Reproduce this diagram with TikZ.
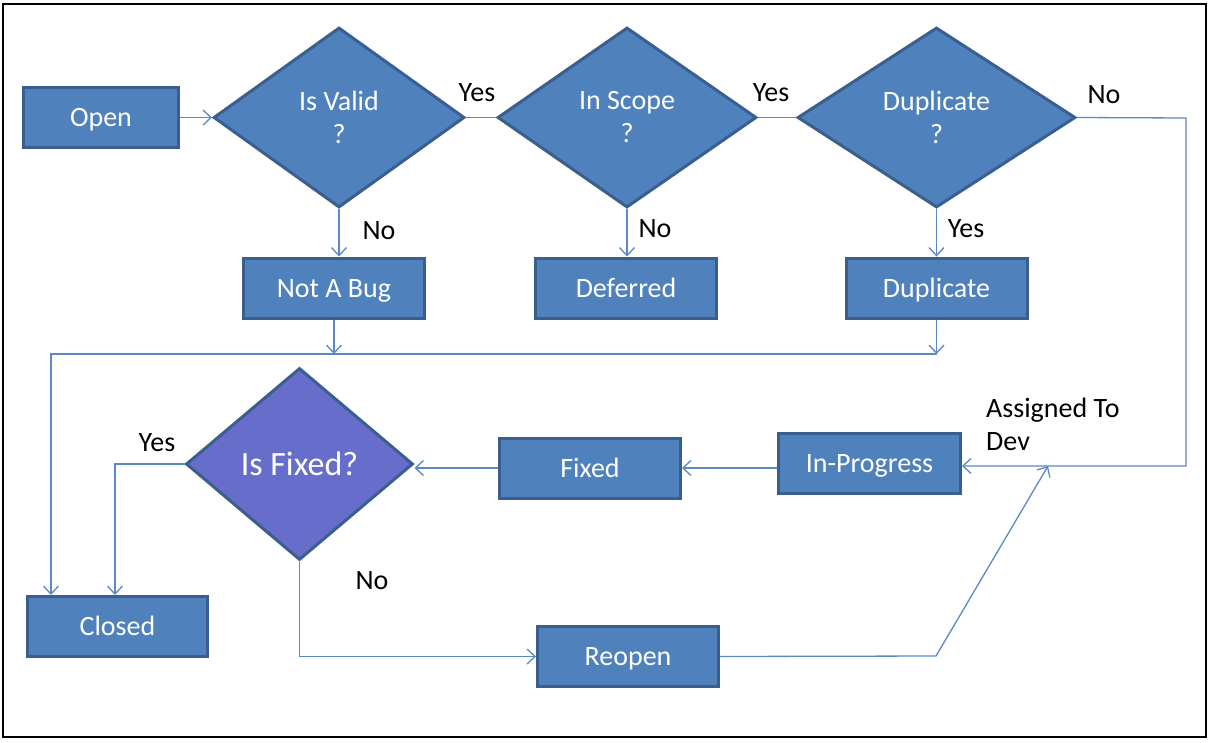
\documentclass[tikz,border=0pt]{standalone}
\usepackage{fontspec}
\setmainfont{Carlito}
\usetikzlibrary{shapes.geometric,arrows.meta}
\definecolor{boxfill}{HTML}{4F81BD}
\definecolor{boxedge}{HTML}{3A5F8F}
\definecolor{fixfill}{HTML}{676DCB}
\definecolor{wire}{HTML}{5B88C6}
\begin{document}
\begin{tikzpicture}[x=1pt,y=-1pt,
  txt/.style={font=\fontsize{28}{33}\selectfont},
  stbox/.style={txt, draw=boxedge, line width=3pt, fill=boxfill, text=white,
    minimum width=#1, minimum height=60pt, inner sep=0pt, text height=20pt, text depth=2pt},
  stbox/.default=181,
  dia/.style={txt, diamond, draw=boxedge, line width=3pt, fill=boxfill, text=white,
    inner sep=0pt, align=center},
  lbl/.style={txt, text=black, inner sep=0pt},
  wireline/.style={draw=wire, line width=1.3pt},
  arr/.style={wireline, -{Straight Barb[length=8pt,width=15pt,line width=1.3pt]}}
]
\useasboundingbox (0,0) rectangle (1210,742);
\fill[white] (0,0) rectangle (1210,742);
\draw[black, line width=2.5pt] (3,4) rectangle (1206,737);

% nodes
\node[stbox=155] (open) at (101,117.5) {Open};
\node[dia, minimum width=251, minimum height=180] (valid) at (339,117.5) {Is Valid\\?};
\node[dia, minimum width=259, minimum height=180] (scope) at (627,117.5) {In Scope\\?};
\node[dia, minimum width=278, minimum height=180] (dupq) at (936.5,117.5) {Duplicate\\?};
\node[stbox] (nab) at (334,288) {Not A Bug};
\node[stbox] (def) at (626,288) {Deferred};
\node[stbox] (dup) at (936.5,288) {Duplicate};
\node[stbox=182] (inprog) at (869.5,463.5) {In-Progress};
\node[stbox] (fixed) at (590,468) {Fixed};
\node[dia, fill=fixfill, minimum width=227, minimum height=192, font=\fontsize{34}{40}\selectfont] (isfixed) at (299.5,464) {Is Fixed?};
\node[stbox=180] (closed) at (117.5,626.5) {Closed};
\node[stbox] (reopen) at (628,656.5) {Reopen};

% coordinates
\coordinate (busL) at (51,354);
\coordinate (busR) at (936.5,354);
\coordinate (rtop) at (1186,118);
\coordinate (rbot) at (1186,466);
\coordinate (yesL) at (115,464);
\coordinate (rk) at (936,656);
\coordinate (ad) at (1048,466);

% connectors
\draw[arr] (open.east) -- (valid.west);
\draw[wireline] (valid.east) -- (scope.west);
\draw[wireline] (scope.east) -- (dupq.west);
\draw[arr] (valid.south) -- (valid.south |- nab.north);
\draw[arr] (scope.south) -- (scope.south |- def.north);
\draw[arr] (dupq.south) -- (dupq.south |- dup.north);
\draw[arr] (nab.south) -- (nab.south |- busL);
\draw[arr] (dup.south) -- (dup.south |- busL);
\draw[arr] (busR) -- (busL) -- (busL |- closed.north);
\draw[arr] (dupq.east) -- (rtop) -- (rbot) -- (inprog.east |- rbot);
\draw[arr] (inprog.west |- fixed.east) -- (fixed.east);
\draw[arr] (fixed.west) -- (isfixed.east |- fixed.west);
\draw[arr] (isfixed.west) -- (yesL) -- (yesL |- closed.north);
\draw[arr] (isfixed.south) -- (isfixed.south |- reopen.west) -- (reopen.west);
\draw[arr] (reopen.east) -- (rk) -- (ad);

% labels
\node[lbl] (l1) at (477,93) {Yes};
\node[lbl] (l2) at (771,93) {Yes};
\node[lbl] (l3) at (1104,95) {No};
\node[lbl] (l4) at (379,231) {No};
\node[lbl] (l5) at (655,229) {No};
\node[lbl] (l6) at (966,229) {Yes};
\node[lbl] (l7) at (157,443) {Yes};
\node[lbl] (l8) at (372,581) {No};
\node[lbl, align=left, anchor=west] (l9) at (986,424) {Assigned To\\Dev};
\end{tikzpicture}
\end{document}
